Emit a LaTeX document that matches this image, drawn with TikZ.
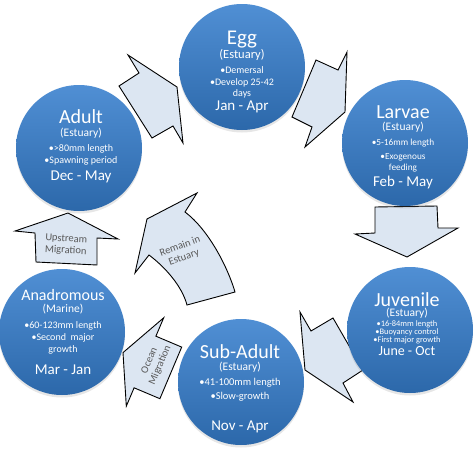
\documentclass[tikz,border=0pt]{standalone}
\usepackage{fontspec}
\setmainfont{Carlito}
\usetikzlibrary{shadows}
\definecolor{cblueT}{RGB}{80,143,212}
\definecolor{cblueB}{RGB}{44,104,170}
\definecolor{afill}{RGB}{220,230,242}
\definecolor{atext}{RGB}{89,89,89}
\tikzset{
  stage/.style={circle, minimum size=126pt, inner sep=0pt, top color=cblueT, bottom color=cblueB, draw=none,
    drop shadow={opacity=0.2, shadow xshift=0pt, shadow yshift=-2.5pt}},
  blockarrow/.style={draw=black, line width=0.9pt, fill=afill, line join=miter},
  lbl/.style={text=white, inner sep=0pt, anchor=center},
  ttl/.style={lbl, font=\fontsize{20}{22}\selectfont},
  sublbl/.style={lbl, font=\fontsize{11.5}{13}\selectfont},
  bul/.style={lbl, font=\fontsize{10}{11}\selectfont},
  datelbl/.style={lbl, font=\fontsize{15}{17}\selectfont},
  atxt/.style={text=atext, inner sep=0pt, font=\fontsize{10.5}{11.5}\selectfont, align=center},
}
\begin{document}
\begin{tikzpicture}[x=1pt, y=-1pt]
\useasboundingbox (0,0) rectangle (474,474);

% ---- block arrows ----
% Adult -> Egg
\draw[blockarrow] (128,55) -- (177,87) -- (183,143) -- (173,126) -- (152,138) -- (119,86) -- (139,73) -- cycle;
% Egg -> Larvae
\draw[blockarrow] (347,52) -- (345,112) -- (305,147) -- (312,127) -- (292,117) -- (316,60) -- (338,70) -- cycle;
% Larvae -> Juvenile
\draw[blockarrow] (375,207) -- (437,206) -- (438,228) -- (458,228) -- (407,257) -- (355,234) -- (375,233) -- cycle;
% Juvenile -> Sub-Adult
\draw[blockarrow] (300,312) -- (311,331) -- (333,318) -- (363,370) -- (343,383) -- (353,402) -- (305,370) -- cycle;
% Sub-Adult -> Anadromous (Ocean Migration)
\draw[blockarrow] (123,352.6) -- (163.7,317.8) -- (155.9,336.2) -- (181.7,347.1) -- (159.9,398.7) -- (134.1,387.8) -- (126.3,406.2) -- cycle;
% Anadromous -> Adult (Upstream Migration)
\draw[blockarrow] (68,213) -- (118,239) -- (97,238) -- (97,265) -- (36,262) -- (35,233) -- (15,231) -- cycle;
% Remain in Estuary (curved)
\draw[blockarrow] (147,219) -- (197,193) -- (185,212) .. controls (209,230) and (228,268) .. (235,292)
  -- (187,305) .. controls (182,286) and (165,267) .. (149,255) -- (135,273) -- cycle;

\node[atxt, rotate=-3] (upT) at (66,245) {Upstream\\Migration};
\node[atxt, rotate=20] (remT) at (182,252) {Remain in\\Estuary};
\node[atxt, rotate=67] (ocT) at (155,363) {Ocean\\Migration};

% ---- stages ----
\node[stage] (egg) at (242,67) {};
\node[stage] (larvae) at (405,143) {};
\node[stage] (adult) at (79,148) {};
\node[stage] (anad) at (62,332) {};
\node[stage] (juv) at (410,330) {};
\node[stage] (subad) at (241,382) {};

% Egg
\node[ttl, font=\fontsize{21}{23}\selectfont] (egg1) at (242,40) {Egg};
\node[sublbl, font=\fontsize{12.5}{14}\selectfont] (egg2) at (242,55) {(Estuary)};
\node[bul] (egg3) at (242,70) {•Demersal};
\node[bul] (egg4) at (242,83) {•Develop 25-42};
\node[bul] (egg5) at (242,94) {days};
\node[datelbl] (egg6) at (242,107) {Jan - Apr};

% Larvae
\node[ttl] (lar1) at (403,112) {Larvae};
\node[sublbl] (lar2) at (403,127) {(Estuary)};
\node[bul, font=\fontsize{9.3}{10}\selectfont] (lar3) at (403,143) {•5-16mm length};
\node[bul, font=\fontsize{9.3}{10}\selectfont] (lar4) at (403,157) {•Exogenous};
\node[bul, font=\fontsize{9.3}{10}\selectfont] (lar5) at (403,168) {feeding};
\node[datelbl] (lar6) at (403,182) {Feb - May};

% Adult
\node[ttl] (ad1) at (81,117) {Adult};
\node[sublbl] (ad2) at (81,133) {(Estuary)};
\node[bul] (ad3) at (81,149) {•>80mm length};
\node[bul] (ad4) at (81,161) {•Spawning period};
\node[datelbl] (ad5) at (81,177) {Dec - May};

% Anadromous
\node[ttl, font=\fontsize{16}{18}\selectfont] (an1) at (63,295) {Anadromous};
\node[sublbl] (an2) at (63,309) {(Marine)};
\node[bul] (an3) at (63,326) {•60-123mm length};
\node[bul] (an4) at (63,338) {•Second\ \ major};
\node[bul] (an5) at (63,350) {growth};
\node[datelbl] (an6) at (63,370) {Mar - Jan};

% Juvenile
\node[ttl] (ju1) at (407,300) {Juvenile};
\node[sublbl] (ju2) at (407,313) {(Estuary)};
\node[bul, font=\fontsize{8.4}{9}\selectfont] (ju3) at (407,324) {•16-84mm length};
\node[bul, font=\fontsize{8.4}{9}\selectfont] (ju4) at (407,332) {•Buoyancy control};
\node[bul, font=\fontsize{8.4}{9}\selectfont] (ju5) at (407,340) {•First major growth};
\node[datelbl, font=\fontsize{14}{16}\selectfont] (ju6) at (407,351) {June - Oct};

% Sub-Adult
\node[ttl] (sa1) at (240,352) {Sub-Adult};
\node[sublbl] (sa2) at (240,367) {(Estuary)};
\node[bul, font=\fontsize{10.5}{11}\selectfont] (sa3) at (240,383) {•41-100mm length};
\node[bul, font=\fontsize{10.5}{11}\selectfont] (sa4) at (240,397) {•Slow-growth};
\node[datelbl] (sa5) at (240,427) {Nov - Apr};
\end{tikzpicture}
\end{document}
